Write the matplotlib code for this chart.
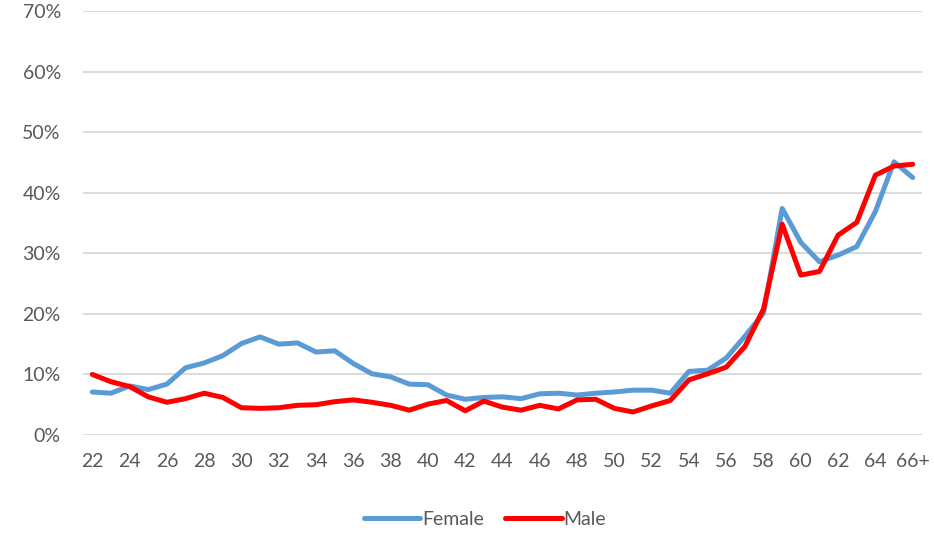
import matplotlib
matplotlib.use("Agg")
import matplotlib.pyplot as plt
from matplotlib.ticker import PercentFormatter

# Age bands and share (%) for each group
ages = [str(a) for a in range(22, 66)] + ["66+"]
female = [7.1, 6.9, 8.1, 7.5, 8.4, 11.1, 11.9, 13.1, 15.1, 16.2,
          15.0, 15.2, 13.7, 13.9, 11.8, 10.1, 9.6, 8.4, 8.3, 6.6,
          5.9, 6.2, 6.3, 6.0, 6.8, 6.9, 6.6, 6.9, 7.1, 7.4,
          7.4, 6.9, 10.5, 10.7, 12.7, 16.3, 20.1, 37.4, 31.8, 28.6,
          29.7, 31.1, 36.9, 45.1, 42.5]
male = [10.0, 8.8, 8.0, 6.3, 5.4, 6.0, 6.9, 6.2, 4.5, 4.4,
        4.5, 4.9, 5.0, 5.5, 5.8, 5.4, 4.9, 4.1, 5.1, 5.7,
        4.0, 5.6, 4.6, 4.1, 4.9, 4.3, 5.8, 5.9, 4.4, 3.8,
        4.8, 5.7, 9.1, 10.1, 11.2, 14.6, 20.8, 34.8, 26.4, 27.0,
        33.0, 35.1, 42.9, 44.4, 44.7]
y_ticks = [0, 10, 20, 30, 40, 50, 60, 70]

W, H = 934, 533
fig = plt.figure(figsize=(W / 100, H / 100), dpi=100)
ax = fig.add_axes([83 / W, 1 - 435 / H, (922 - 83) / W, (435 - 11) / H])

x = list(range(len(ages)))
ax.plot(x, female, color="#5B9BD5", lw=3.6, solid_joinstyle="round",
        solid_capstyle="round", label="Female")
ax.plot(x, male, color="#FF0000", lw=3.6, solid_joinstyle="round",
        solid_capstyle="round", label="Male")

ax.set_xlim(-0.5, len(ages) - 0.5)
ax.set_ylim(0, 70)
ax.set_yticks(y_ticks)
ax.yaxis.set_major_formatter(PercentFormatter(decimals=0))
ax.set_xticks(x[::2])
ax.set_xticklabels(ages[::2])

ax.grid(axis="y", color="#D9D9D9", lw=1.3)
ax.set_axisbelow(True)
for s in ax.spines.values():
    s.set_visible(False)
ax.tick_params(axis="both", length=0, labelsize=14, labelcolor="#595959")
ax.tick_params(axis="y", pad=16)
ax.tick_params(axis="x", pad=13)
for lbl in ax.get_xticklabels() + ax.get_yticklabels():
    lbl.set_fontfamily("Lato")

leg = ax.legend(loc="center", bbox_to_anchor=(0.479, -0.2), ncol=2,
                frameon=False, handlelength=2.9, handletextpad=0.1,
                columnspacing=1.1, prop={"family": "Lato", "size": 14})
for t in leg.get_texts():
    t.set_color("#595959")

fig.savefig("out.png", dpi=100)
